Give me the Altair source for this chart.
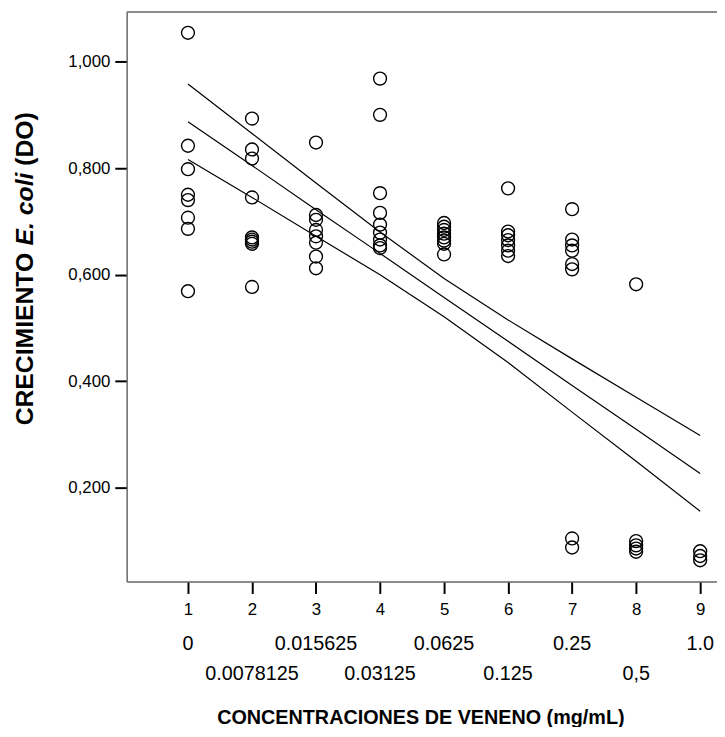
import altair as alt
import pandas as pd

# ---- data ----
groups = [1, 2, 3, 4, 5, 6, 7, 8, 9]
do_g1 = [1.054, 0.842, 0.798, 0.750, 0.740, 0.707, 0.686, 0.569]
do_g2 = [0.893, 0.835, 0.818, 0.745, 0.670, 0.666, 0.662, 0.658, 0.577]
do_g3 = [0.848, 0.712, 0.703, 0.684, 0.672, 0.660, 0.634, 0.612]
do_g4 = [0.968, 0.900, 0.753, 0.716, 0.694, 0.679, 0.666, 0.655, 0.650]
do_g5 = [0.697, 0.690, 0.684, 0.677, 0.670, 0.664, 0.658, 0.638]
do_g6 = [0.762, 0.681, 0.674, 0.665, 0.655, 0.645, 0.635]
do_g7 = [0.723, 0.666, 0.655, 0.645, 0.620, 0.610, 0.105, 0.088]
do_g8 = [0.582, 0.100, 0.092, 0.086, 0.080]
do_g9 = [0.081, 0.072, 0.064]

line_x = [1, 2, 3, 4, 5, 6, 7, 8, 9]
fit_mid = [0.887, 0.805, 0.722, 0.640, 0.557, 0.475, 0.392, 0.310, 0.227]
fit_upper = [0.958, 0.865, 0.772, 0.680, 0.593, 0.515, 0.442, 0.370, 0.298]
fit_lower = [0.816, 0.745, 0.672, 0.600, 0.521, 0.435, 0.342, 0.250, 0.156]

conc_pos = [1, 2, 3, 4, 5, 6, 7, 8, 9]
conc_labels = ["0", "0.0078125", "0.015625", "0.03125", "0.0625",
               "0.125", "0.25", "0,5", "1.0"]

y_ticks = [0.2, 0.4, 0.6, 0.8, 1.0]

x_title = "CONCENTRACIONES DE VENENO (mg/mL)"
y_title_parts = ["CRECIMIENTO", "E. coli", "(DO)"]

# ---- tables ----
all_groups = [do_g1, do_g2, do_g3, do_g4, do_g5, do_g6, do_g7, do_g8, do_g9]
pts = pd.DataFrame(
    [{"grupo": g, "do": v} for g, vals in zip(groups, all_groups) for v in vals]
)
lines = pd.DataFrame(
    [{"x": x, "v": v, "serie": s}
     for s, arr in (("sup", fit_upper), ("mid", fit_mid), ("inf", fit_lower))
     for x, v in zip(line_x, arr)]
)
conc = pd.DataFrame({"pos": conc_pos, "lab": conc_labels,
                     "fila": [1 if i % 2 == 0 else 2 for i in range(len(conc_pos))]})

W, H = 597, 576
FONT = "Liberation Sans, Arial, sans-serif"

xs = alt.Scale(domain=[0.0425, 9.263], nice=False, zero=False)
ys = alt.Scale(domain=[0.024, 1.093], nice=False, zero=False)

x_axis = alt.Axis(values=groups, format="d", title=None, grid=False,
                  labelFontSize=17, labelFont=FONT, labelColor="black",
                  labelPadding=8, tickSize=12, tickWidth=2, tickColor="black",
                  domainColor="#666666", domainWidth=1.5, labelFlush=False)
y_axis = alt.Axis(values=y_ticks, title=None, grid=False,
                  labelExpr="replace(format(datum.value, '.3f'), '.', ',')",
                  labelFontSize=17, labelFont=FONT, labelColor="black",
                  labelPadding=5, tickSize=12, tickWidth=2, tickColor="black",
                  domainColor="#666666", domainWidth=1.5)

line_layer = alt.Chart(lines).mark_line(color="black", strokeWidth=1.2).encode(
    x=alt.X("x:Q", scale=xs, axis=x_axis),
    y=alt.Y("v:Q", scale=ys, axis=y_axis),
    detail="serie:N",
)

point_layer = alt.Chart(pts).mark_point(
    shape="circle", filled=False, size=170, strokeWidth=1.4,
    color="black", opacity=1
).encode(
    x=alt.X("grupo:Q", scale=xs),
    y=alt.Y("do:Q", scale=ys),
)

row1 = alt.Chart(conc).transform_filter("datum.fila == 1").mark_text(
    fontSize=20, font=FONT, color="black", baseline="middle"
).encode(x=alt.X("pos:Q", scale=xs), y=alt.value(639), text="lab:N")

row2 = alt.Chart(conc).transform_filter("datum.fila == 2").mark_text(
    fontSize=20, font=FONT, color="black", baseline="middle"
).encode(x=alt.X("pos:Q", scale=xs), y=alt.value(670), text="lab:N")

one = alt.Data(values=[{"k": 1}])

xt = alt.Chart(one).mark_text(
    text=x_title, fontSize=20, fontWeight="bold", font=FONT,
    color="black", baseline="middle", align="center"
).encode(x=alt.value(W / 2 - 1), y=alt.value(714))

YS = 25
Y0 = 418
yt1 = alt.Chart(one).mark_text(
    text=y_title_parts[0], fontSize=YS, fontWeight="bold", font=FONT,
    color="black", angle=270, align="left", baseline="middle"
).encode(x=alt.value(-103), y=alt.value(Y0))
yt2 = alt.Chart(one).mark_text(
    text=y_title_parts[1], fontSize=YS, fontWeight="bold", fontStyle="italic",
    font=FONT, color="black", angle=270, align="left", baseline="middle"
).encode(x=alt.value(-103), y=alt.value(Y0 - 7.278 * YS))
yt3 = alt.Chart(one).mark_text(
    text=y_title_parts[2], fontSize=YS, fontWeight="bold", font=FONT,
    color="black", angle=270, align="left", baseline="middle"
).encode(x=alt.value(-103), y=alt.value(Y0 - 7.278 * YS - 3.224 * YS))

top_rule = alt.Chart(one).mark_rule(color="#666666", strokeWidth=1.5).encode(
    x=alt.value(0), x2=alt.value(W), y=alt.value(0)
)

chart = alt.layer(
    line_layer, point_layer, row1, row2, xt, yt1, yt2, yt3, top_rule
).properties(
    width=W, height=H,
    autosize=alt.AutoSizeParams(type="none"),
    padding={"left": 120, "top": 0, "right": 0, "bottom": 143},
).configure_view(stroke=None)

chart.save("out.html", embed_options={"renderer": "svg", "actions": False})
